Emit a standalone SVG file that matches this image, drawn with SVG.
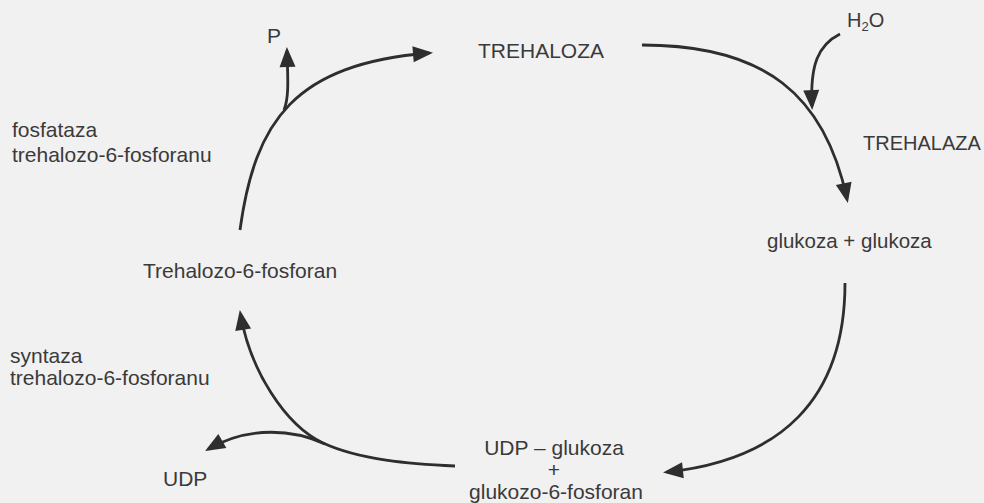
<svg xmlns="http://www.w3.org/2000/svg" width="984" height="503" viewBox="0 0 984 503">
<style>
  text { font-family: "Liberation Sans", Arial, sans-serif; font-size: 21px; fill: #3a3a3a; }
  .c { fill: none; stroke: #2e2e2e; stroke-width: 2.8; marker-end: url(#ah); }
</style>
<defs>
  <marker id="ah" markerUnits="userSpaceOnUse" markerWidth="22" markerHeight="18" refX="16" refY="8" orient="auto" overflow="visible">
    <path d="M0,0 L20,8 L0,16 z" fill="#2e2e2e"/>
  </marker>
</defs>
<rect width="984" height="503" fill="#f1f1f1"/>
<g id="connectors">
  <path class="c" d="M240,230 C255,120 295,64 429,53"/>
  <path class="c" d="M284,110 C289,98 288,80 287,51"/>
  <path class="c" d="M642,45 C765,45 825,95 847,199"/>
  <path class="c" d="M840,34 C818,45 810,65 812,106"/>
  <path class="c" d="M845,283 C845,400 780,460 667,472"/>
  <path class="c" d="M455,466 C410,464 360,460 323,443 C285,425 250,370 240.5,314"/>
  <path class="c" d="M325,444 C295,430 250,425 208.5,449"/>
</g>
<g id="node-p"><text x="267" y="43">P</text></g>
<g id="node-trehaloza"><text x="478" y="58">TREHALOZA</text></g>
<g id="node-h2o"><text x="847" y="27" style="font-size:20px">H<tspan dy="4" style="font-size:13px">2</tspan><tspan dy="-4">O</tspan></text></g>
<g id="label-trehalaza"><text x="863" y="150" style="font-size:20px">TREHALAZA</text></g>
<g id="node-glukoza"><text x="767" y="248" style="font-size:20.5px">glukoza + glukoza</text></g>
<g id="label-fosfataza"><text x="12" y="137">fosfataza</text><text x="12" y="162">trehalozo-6-fosforanu</text></g>
<g id="node-t6p"><text x="143" y="278">Trehalozo-6-fosforan</text></g>
<g id="label-syntaza"><text x="10" y="363">syntaza</text><text x="10" y="385">trehalozo-6-fosforanu</text></g>
<g id="node-udp"><text x="163" y="486">UDP</text></g>
<g id="node-udpg"><text x="554" y="455" text-anchor="middle">UDP – glukoza</text><text x="554" y="477" text-anchor="middle">+</text><text x="556" y="499" text-anchor="middle">glukozo-6-fosforan</text></g>
</svg>
